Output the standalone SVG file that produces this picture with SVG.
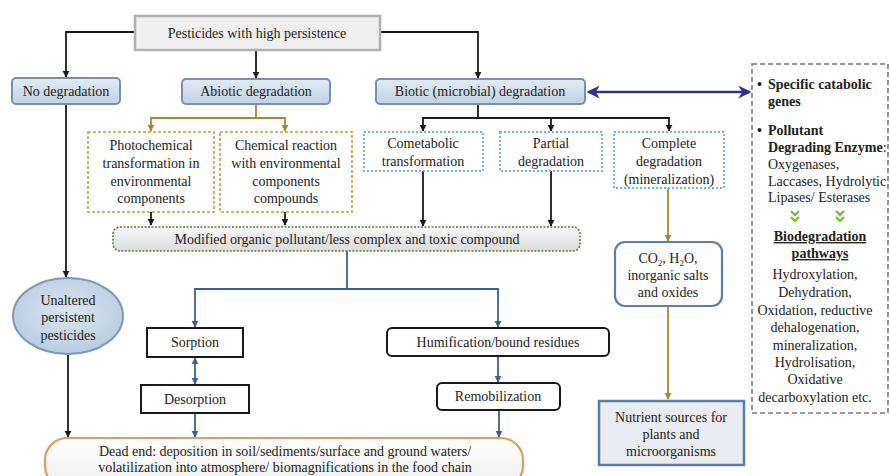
<svg xmlns="http://www.w3.org/2000/svg" width="890" height="476" viewBox="0 0 890 476">
  <style>
    text { font-family: "Liberation Serif", "Times New Roman", "DejaVu Serif", serif; font-size: 14px; fill: #222; }
    .c { text-anchor: middle; }
    .b { font-weight: bold; }
    .blue { fill: url(#gBlue); stroke: #7890b0; stroke-width: 2; }
    .abio { fill: #fff; stroke: #c49a4a; stroke-width: 1.6; stroke-dasharray: 3 2; }
    .bio { fill: #fff; stroke: #6fb0dc; stroke-width: 1.8; stroke-dasharray: 2 2; }
    .blk { fill: #fff; stroke: #1a1a1a; stroke-width: 2; }
    .k { fill: none; stroke: #1a1a1a; stroke-width: 1.8; }
    .bl { fill: none; stroke: #3c5f94; stroke-width: 1.8; }
    .br { fill: none; stroke: #b0852a; stroke-width: 1.8; }
  </style>
  <defs>
    <linearGradient id="gBlue" x1="0" y1="0" x2="0" y2="1">
      <stop offset="0" stop-color="#e3ecf5"/>
      <stop offset="1" stop-color="#bfd1e3"/>
    </linearGradient>
    <linearGradient id="gGray" x1="0" y1="0" x2="0" y2="1">
      <stop offset="0" stop-color="#f7f7f7"/>
      <stop offset="1" stop-color="#dcdcdc"/>
    </linearGradient>
    <linearGradient id="gDead" x1="0" y1="0" x2="0" y2="1">
      <stop offset="0" stop-color="#ffffff"/>
      <stop offset="1" stop-color="#eeeeee"/>
    </linearGradient>
    <radialGradient id="gEll" cx="0.5" cy="0.45" r="0.6">
      <stop offset="0" stop-color="#dbe6f1"/>
      <stop offset="1" stop-color="#b7cadf"/>
    </radialGradient>
    <marker id="aK" viewBox="0 0 10 10" refX="9" refY="5" markerWidth="4" markerHeight="4" orient="auto-start-reverse">
      <path d="M0,0 L10,5 L0,10 z" fill="#1a1a1a"/>
    </marker>
    <marker id="aB" viewBox="0 0 10 10" refX="9" refY="5" markerWidth="4" markerHeight="4" orient="auto-start-reverse">
      <path d="M0,0 L10,5 L0,10 z" fill="#3c5f94"/>
    </marker>
    <marker id="aR" viewBox="0 0 10 10" refX="9" refY="5" markerWidth="4" markerHeight="4" orient="auto-start-reverse">
      <path d="M0,0 L10,5 L0,10 z" fill="#b0852a"/>
    </marker>
    <marker id="aN" viewBox="0 0 10 10" refX="9" refY="5" markerWidth="5" markerHeight="5" orient="auto-start-reverse">
      <path d="M0,0 L10,5 L0,10 L3,5 z" fill="#2c3585"/>
    </marker>
  </defs>

  <!-- connectors -->
  <g id="connectors">
    <path class="k" d="M135,32 H66 V77" marker-end="url(#aK)"/>
    <path class="k" d="M256,50 V78" marker-end="url(#aK)"/>
    <path class="k" d="M380,32 H478 V78" marker-end="url(#aK)"/>
    <path d="M588,92 H750" fill="none" stroke="#2c3585" stroke-width="2.6" marker-start="url(#aN)" marker-end="url(#aN)"/>
    <!-- abiotic branches -->
    <path class="br" d="M256,104 V118 M151,118 H285"/>
    <path class="br" d="M151,117 V131" marker-end="url(#aR)"/>
    <path class="br" d="M285,117 V131" marker-end="url(#aR)"/>
    <path class="k" d="M151,212 V225" marker-end="url(#aK)"/>
    <path class="k" d="M285,212 V225" marker-end="url(#aK)"/>
    <!-- biotic branches -->
    <path class="k" d="M478,104 V118 M423,118 H669"/>
    <path class="k" d="M423,117 V131" marker-end="url(#aK)"/>
    <path class="k" d="M551,117 V131" marker-end="url(#aK)"/>
    <path class="k" d="M669,117 V131" marker-end="url(#aK)"/>
    <path class="k" d="M423,171 V226" marker-end="url(#aK)"/>
    <path class="k" d="M551,171 V226" marker-end="url(#aK)"/>
    <path class="br" d="M668,188 V241" marker-end="url(#aR)"/>
    <path class="br" d="M668,306 V399" marker-end="url(#aR)"/>
    <!-- no degradation path -->
    <path class="k" d="M66,104 V277" marker-end="url(#aK)"/>
    <path class="k" d="M68,354 V437" marker-end="url(#aK)"/>
    <!-- fate of modified compounds -->
    <path class="bl" d="M347,251 V289 M195,289 H498"/>
    <path class="bl" d="M195,288 V327" marker-end="url(#aB)"/>
    <path class="bl" d="M498,288 V327" marker-end="url(#aB)"/>
    <path class="bl" d="M195,358 V384" marker-start="url(#aB)" marker-end="url(#aB)"/>
    <path class="bl" d="M195,413 V437" marker-end="url(#aB)"/>
    <path class="bl" d="M498,356 V382" marker-end="url(#aB)"/>
    <path class="bl" d="M499,410 V437" marker-end="url(#aB)"/>
  </g>

  <g id="top">
    <rect x="135" y="16" width="245" height="34" fill="#efefef" stroke="#b0b0b0" stroke-width="2.5"/>
    <text class="c" x="257" y="38">Pesticides with high persistence</text>
  </g>
  <g id="no-degradation">
    <rect class="blue" x="12" y="78" width="108" height="26" rx="4"/>
    <text class="c" x="66" y="96">No degradation</text>
  </g>
  <g id="abiotic">
    <rect class="blue" x="182" y="79" width="148" height="25" rx="4"/>
    <text class="c" x="256" y="96">Abiotic degradation</text>
  </g>
  <g id="biotic">
    <rect class="blue" x="376" y="79" width="209" height="25" rx="4"/>
    <text class="c" x="480" y="96">Biotic (microbial) degradation</text>
  </g>

  <g id="photochemical">
    <rect class="abio" x="88" y="132" width="126" height="80"/>
    <text class="c" x="151" y="150">Photochemical</text>
    <text class="c" x="151" y="168">transformation in</text>
    <text class="c" x="151" y="186">environmental</text>
    <text class="c" x="151" y="203">components</text>
  </g>
  <g id="chemical">
    <rect class="abio" x="220" y="132" width="132" height="80"/>
    <text class="c" x="286" y="150">Chemical reaction</text>
    <text class="c" x="286" y="168">with environmental</text>
    <text class="c" x="286" y="186">components</text>
    <text class="c" x="286" y="203">compounds</text>
  </g>

  <g id="cometabolic">
    <rect class="bio" x="364" y="132" width="119" height="39"/>
    <text class="c" x="423" y="148">Cometabolic</text>
    <text class="c" x="423" y="166">transformation</text>
  </g>
  <g id="partial">
    <rect class="bio" x="500" y="132" width="102" height="39"/>
    <text class="c" x="551" y="148">Partial</text>
    <text class="c" x="551" y="166">degradation</text>
  </g>
  <g id="complete">
    <rect class="bio" x="614" y="132" width="110" height="56"/>
    <text class="c" x="669" y="148">Complete</text>
    <text class="c" x="669" y="166">degradation</text>
    <text class="c" x="669" y="184">(mineralization)</text>
  </g>

  <g id="modified">
    <rect x="113" y="227" width="467" height="24" rx="7" fill="url(#gGray)" stroke="#5d7a3a" stroke-width="1.6" stroke-dasharray="2 1.5"/>
    <text class="c" x="347" y="244">Modified organic pollutant/less complex and toxic compound</text>
  </g>

  <g id="mineral-products">
    <rect x="615" y="242" width="107" height="64" rx="10" fill="#fff" stroke="#5b7ea8" stroke-width="2.2"/>
    <text class="c" x="668" y="263">CO<tspan font-size="9" dy="3">2</tspan><tspan dy="-3">, H</tspan><tspan font-size="9" dy="3">2</tspan><tspan dy="-3">O,</tspan></text>
    <text class="c" x="668" y="280">inorganic salts</text>
    <text class="c" x="668" y="297">and oxides</text>
  </g>
  <g id="nutrients">
    <rect x="599" y="401" width="145" height="64" fill="#e9ecf1" stroke="#5b7ea8" stroke-width="2.5"/>
    <text class="c" x="671" y="422">Nutrient sources for</text>
    <text class="c" x="671" y="439">plants and</text>
    <text class="c" x="671" y="456">microorganisms</text>
  </g>

  <g id="unaltered">
    <ellipse cx="68" cy="316" rx="55" ry="38" fill="url(#gEll)" stroke="#7d98b8" stroke-width="2"/>
    <text class="c" x="68" y="305">Unaltered</text>
    <text class="c" x="68" y="322">persistent</text>
    <text class="c" x="68" y="340">pesticides</text>
  </g>

  <g id="sorption">
    <rect class="blk" x="147" y="328" width="96" height="29"/>
    <text class="c" x="195" y="347">Sorption</text>
  </g>
  <g id="desorption">
    <rect class="blk" x="141" y="385" width="108" height="28"/>
    <text class="c" x="195" y="404">Desorption</text>
  </g>
  <g id="humification">
    <rect class="blk" x="387" y="328" width="222" height="28" rx="5"/>
    <text class="c" x="498" y="347">Humification/bound residues</text>
  </g>
  <g id="remobilization">
    <rect class="blk" x="437" y="383" width="123" height="27" rx="5"/>
    <text class="c" x="498" y="401">Remobilization</text>
  </g>

  <g id="dead-end">
    <rect x="45" y="438" width="478" height="50" rx="22" fill="url(#gDead)" stroke="#e39a5e" stroke-width="2.2"/>
    <text class="c" x="285" y="456">Dead end: deposition in soil/sediments/surface and ground waters/</text>
    <text class="c" x="285" y="472">volatilization into atmosphere/ biomagnifications in the food chain</text>
  </g>

  <g id="mechanisms">
    <rect x="752" y="64" width="136" height="349" fill="#fff" stroke="#7a7a7a" stroke-width="1.6" stroke-dasharray="5 3"/>
    <text x="757" y="89" class="b">•</text>
    <text x="768" y="89" class="b">Specific catabolic</text>
    <text x="768" y="106" class="b">genes</text>
    <text x="757" y="135" class="b">•</text>
    <text x="768" y="135" class="b">Pollutant</text>
    <text x="768" y="152"><tspan class="b">Degrading Enzyme</tspan>:</text>
    <text x="768" y="169">Oxygenases,</text>
    <text x="768" y="186">Laccases, Hydrolytic</text>
    <text x="768" y="202">Lipases/ Esterases</text>
    <path d="M791,211 l4,4 l4,-4 M791,217 l4,4 l4,-4 M836,211 l4,4 l4,-4 M836,217 l4,4 l4,-4" fill="none" stroke="#7cbf3c" stroke-width="2.4"/>
    <text class="c b" x="820" y="241" text-decoration="underline">Biodegradation</text>
    <text class="c b" x="820" y="258" text-decoration="underline">pathways</text>
    <text class="c" x="815" y="279">Hydroxylation,</text>
    <text class="c" x="815" y="297">Dehydration,</text>
    <text class="c" x="815" y="315">Oxidation, reductive</text>
    <text class="c" x="815" y="332">dehalogenation,</text>
    <text class="c" x="815" y="350">mineralization,</text>
    <text class="c" x="815" y="367">Hydrolisation,</text>
    <text class="c" x="815" y="384">Oxidative</text>
    <text class="c" x="815" y="402">decarboxylation etc.</text>
  </g>
</svg>
